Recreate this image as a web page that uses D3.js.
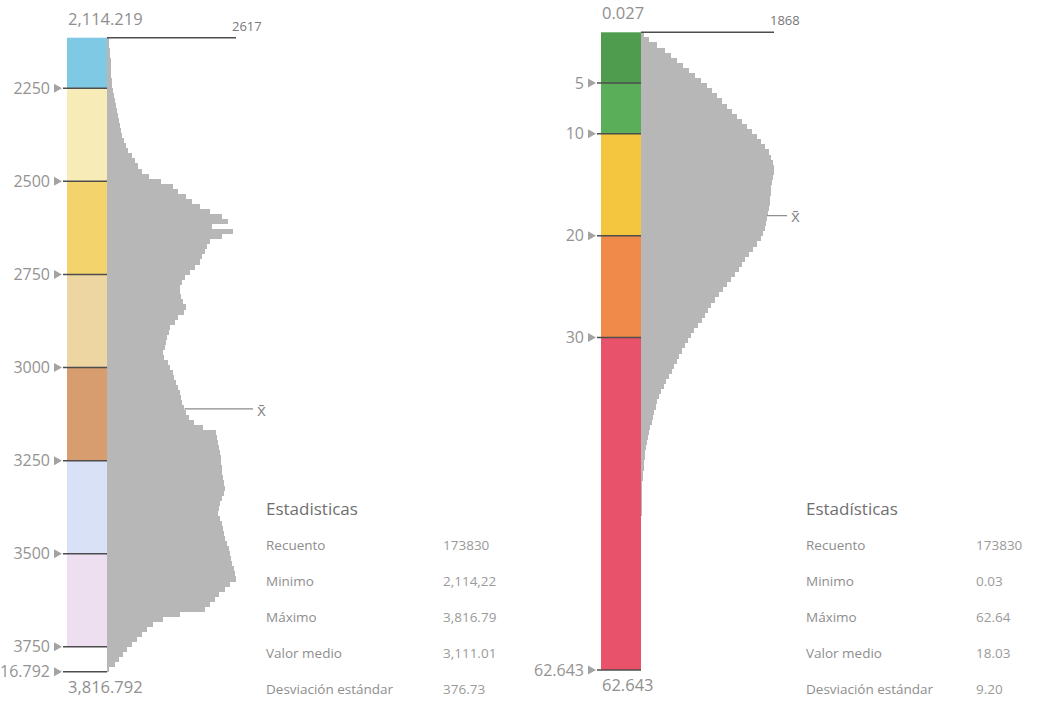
<!DOCTYPE html>
<html>
<head>
<meta charset="utf-8">
<script src="https://cdn.jsdelivr.net/npm/d3@7"></script>
<style>
  body { margin: 0; background: #fff; }
  svg { display: block; font-family: "Open Sans", "Noto Sans", sans-serif; }
</style>
</head>
<body>
<div class="chart"></div>
<script>
// Two classified histograms (altitude, slope) with a statistics table each

var svgWidth = 1049;
var svgHeight = 702;

// ---- left panel data (altitude) ----
var leftMin = 2114.219;
var leftMax = 3816.792;
var leftBreaks = [2114.219, 2250, 2500, 2750, 3000, 3250, 3500, 3750, 3816.792];
var leftTicks = [2250, 2500, 2750, 3000, 3250, 3500, 3750, 3816.792];
var leftTickLabels = ["2250", "2500", "2750", "3000", "3250", "3500", "3750", "3,816.792"];
var leftColors = ["#80c9e4", "#f7ebb7", "#f3d46c", "#eed6a2", "#d79d6e", "#d8e1f5", "#eedff0", "#ffffff"];
var leftMaxCount = 2617;
var leftMean = 3111.01;
var leftCounts = [
  40, 40, 60, 60, 81, 81, 81, 81, 101, 101,
  121, 141, 161, 181, 201, 221, 242, 262, 282, 302,
  342, 382, 423, 503, 564, 624, 705, 845, 1087, 1329,
  1449, 1610, 1731, 1892, 2094, 2335, 2456, 2134, 2560, 2335,
  2094, 2033, 1993, 1932, 1892, 1792, 1691, 1590, 1530, 1490,
  1490, 1510, 1550, 1610, 1570, 1449, 1389, 1288, 1248, 1208,
  1188, 1168, 1127, 1147, 1228, 1288, 1329, 1369, 1409, 1449,
  1490, 1510, 1530, 1570, 1610, 1671, 1771, 1953, 2214, 2234,
  2255, 2275, 2295, 2315, 2315, 2335, 2335, 2355, 2375, 2395,
  2375, 2335, 2295, 2275, 2255, 2295, 2335, 2355, 2375, 2395,
  2436, 2476, 2496, 2516, 2536, 2577, 2600, 2617, 2496, 2395,
  2275, 2194, 2094, 1993, 1490, 1127, 926, 805, 705, 604,
  503, 403, 322, 242, 161, 40
];
var leftStats = ["173830", "2,114,22", "3,816.79", "3,111.01", "376.73"];

// ---- right panel data (slope) ----
var rightMin = 0.027;
var rightMax = 62.643;
var rightBreaks = [0.027, 5, 10, 20, 30, 62.643];
var rightTicks = [5, 10, 20, 30, 62.643];
var rightTickLabels = ["5", "10", "20", "30", "62.643"];
var rightColors = ["#4f9c4f", "#5aae5a", "#f4c53e", "#ef8a4b", "#e8526a"];
var rightMaxCount = 1868;
var rightMean = 18.03;
var rightBinStep = 0.5;
var rightCounts = [
  42, 112, 225, 337, 422, 506, 590, 674, 759, 843,
  927, 998, 1068, 1138, 1208, 1279, 1349, 1419, 1489, 1560,
  1630, 1686, 1742, 1798, 1827, 1855, 1868, 1862, 1850, 1845,
  1830, 1825, 1815, 1810, 1800, 1790, 1770, 1755, 1740, 1714,
  1686, 1630, 1574, 1517, 1461, 1419, 1377, 1321, 1265, 1208,
  1152, 1096, 1040, 984, 941, 899, 857, 801, 745, 703,
  660, 618, 576, 534, 506, 464, 436, 393, 351, 323,
  281, 253, 225, 211, 183, 169, 155, 126, 112, 98,
  84, 70, 56, 52, 42, 38, 28, 25, 21, 18,
  14, 12, 10, 9, 8, 7, 6, 5, 5, 4,
  4, 3, 3, 2, 2, 1, 1
];
var rightStats = ["173830", "0.03", "62.64", "18.03", "9.20"];

var statTitleLeft = "Estadisticas";
var statTitleRight = "Estadísticas";
var statLabels = ["Recuento", "Minimo", "Máximo", "Valor medio", "Desviación estándar"];

var svg = d3.select(".chart")
  .append("svg")
  .attr("width", svgWidth)
  .attr("height", svgHeight);

function drawPanel(p) {
  var g = svg.append("g");

  var y = d3.scaleLinear().domain([p.min, p.max]).range([p.top, p.bottom]);
  var x = d3.scaleLinear().domain([0, p.maxCount]).range([p.barX + p.barW, p.barX + p.barW + p.histW]);

  // colour classes
  var segs = d3.pairs(p.breaks);
  g.selectAll("rect.cls")
    .data(segs)
    .enter().append("rect")
      .attr("class", "cls")
      .attr("x", p.barX)
      .attr("width", p.barW)
      .attr("y", function(d) { return y(d[0]); })
      .attr("height", function(d) { return y(d[1]) - y(d[0]); })
      .attr("fill", function(d, i) { return p.colors[i]; });

  // histogram
  var step = p.binStep || (p.max - p.min) / p.counts.length;
  g.selectAll("rect.bin")
    .data(p.counts)
    .enter().append("rect")
      .attr("class", "bin")
      .attr("x", x(0))
      .attr("y", function(d, i) { return y(p.min + i * step); })
      .attr("width", function(d) { return x(d) - x(0); })
      .attr("height", function(d, i) { return y(p.min + (i + 1) * step) - y(p.min + i * step) + 0.4; })
      .attr("fill", "#b7b7b7")
      .attr("shape-rendering", "crispEdges");

  // max count line
  g.append("line")
    .attr("x1", x(0)).attr("x2", x(p.maxCount))
    .attr("y1", y(p.min)).attr("y2", y(p.min))
    .attr("stroke", "#4d4d4d").attr("stroke-width", 1.5);
  g.append("text")
    .attr("x", x(p.maxCount) - 4)
    .attr("y", y(p.min) - 7)
    .attr("font-size", 13)
    .attr("fill", "#777")
    .text(p.maxCount);

  // min / max labels
  g.append("text")
    .attr("x", p.barX + 1).attr("y", y(p.min) - 13)
    .attr("font-size", 16.5).attr("fill", "#8f8f8f")
    .text(p.minLabel);
  g.append("text")
    .attr("x", p.barX + 1).attr("y", y(p.max) + 21)
    .attr("font-size", 16.5).attr("fill", "#8f8f8f")
    .text(p.maxLabel);

  // class break ticks
  var ticks = g.selectAll("g.tick")
    .data(p.ticks)
    .enter().append("g")
      .attr("class", "tick")
      .attr("transform", function(d) { return "translate(0," + y(d) + ")"; });
  ticks.append("line")
    .attr("x1", p.barX - 4).attr("x2", p.barX + p.barW)
    .attr("stroke", "#4d4d4d").attr("stroke-width", 1.5);
  ticks.append("path")
    .attr("d", "M" + (p.barX - 13) + ",-4.5L" + (p.barX - 5) + ",0L" + (p.barX - 13) + ",4.5Z")
    .attr("fill", "#a3a3a3");
  ticks.append("text")
    .attr("x", p.barX - 17)
    .attr("dy", "0.35em")
    .attr("text-anchor", "end")
    .attr("font-size", 16)
    .attr("fill", "#939393")
    .text(function(d, i) { return p.tickLabels[i]; });

  // mean marker
  var mi = Math.floor((p.mean - p.min) / step);
  var ym = y(p.mean);
  g.append("line")
    .attr("x1", x(p.counts[mi])).attr("x2", x(0) + 146)
    .attr("y1", ym).attr("y2", ym)
    .attr("stroke", "#8a8a8a").attr("stroke-width", 1.2);
  g.append("text")
    .attr("x", x(0) + 150).attr("y", ym)
    .attr("dy", "0.4em")
    .attr("font-size", 17).attr("fill", "#8a8a8a")
    .text("x\u0304");

  // statistics table
  g.append("text")
    .attr("x", p.statX).attr("y", 515)
    .attr("font-size", 17).attr("fill", "#6f6f6f")
    .text(p.statTitle);
  var rows = g.selectAll("g.row")
    .data(statLabels)
    .enter().append("g")
      .attr("class", "row")
      .attr("transform", function(d, i) { return "translate(0," + (550 + i * 36) + ")"; });
  rows.append("text")
    .attr("x", p.statX)
    .attr("font-size", 13.5).attr("fill", "#8e8e8e")
    .text(function(d) { return d; });
  rows.append("text")
    .attr("x", p.valX)
    .attr("font-size", 13.5).attr("fill", "#9a9a9a")
    .text(function(d, i) { return p.stats[i]; });
}

drawPanel({
  min: leftMin, max: leftMax, top: 37.7, bottom: 671.7,
  breaks: leftBreaks, colors: leftColors, ticks: leftTicks, tickLabels: leftTickLabels,
  counts: leftCounts, maxCount: leftMaxCount, mean: leftMean,
  minLabel: "2,114.219", maxLabel: "3,816.792",
  barX: 67, barW: 40, histW: 129,
  statX: 266, valX: 443, statTitle: statTitleLeft, stats: leftStats
});

drawPanel({
  min: rightMin, max: rightMax, top: 32.3, bottom: 670,
  breaks: rightBreaks, colors: rightColors, ticks: rightTicks, tickLabels: rightTickLabels,
  counts: rightCounts, maxCount: rightMaxCount, mean: rightMean, binStep: rightBinStep,
  minLabel: "0.027", maxLabel: "62.643",
  barX: 601, barW: 40, histW: 133,
  statX: 806, valX: 976, statTitle: statTitleRight, stats: rightStats
});
</script>
</body>
</html>
